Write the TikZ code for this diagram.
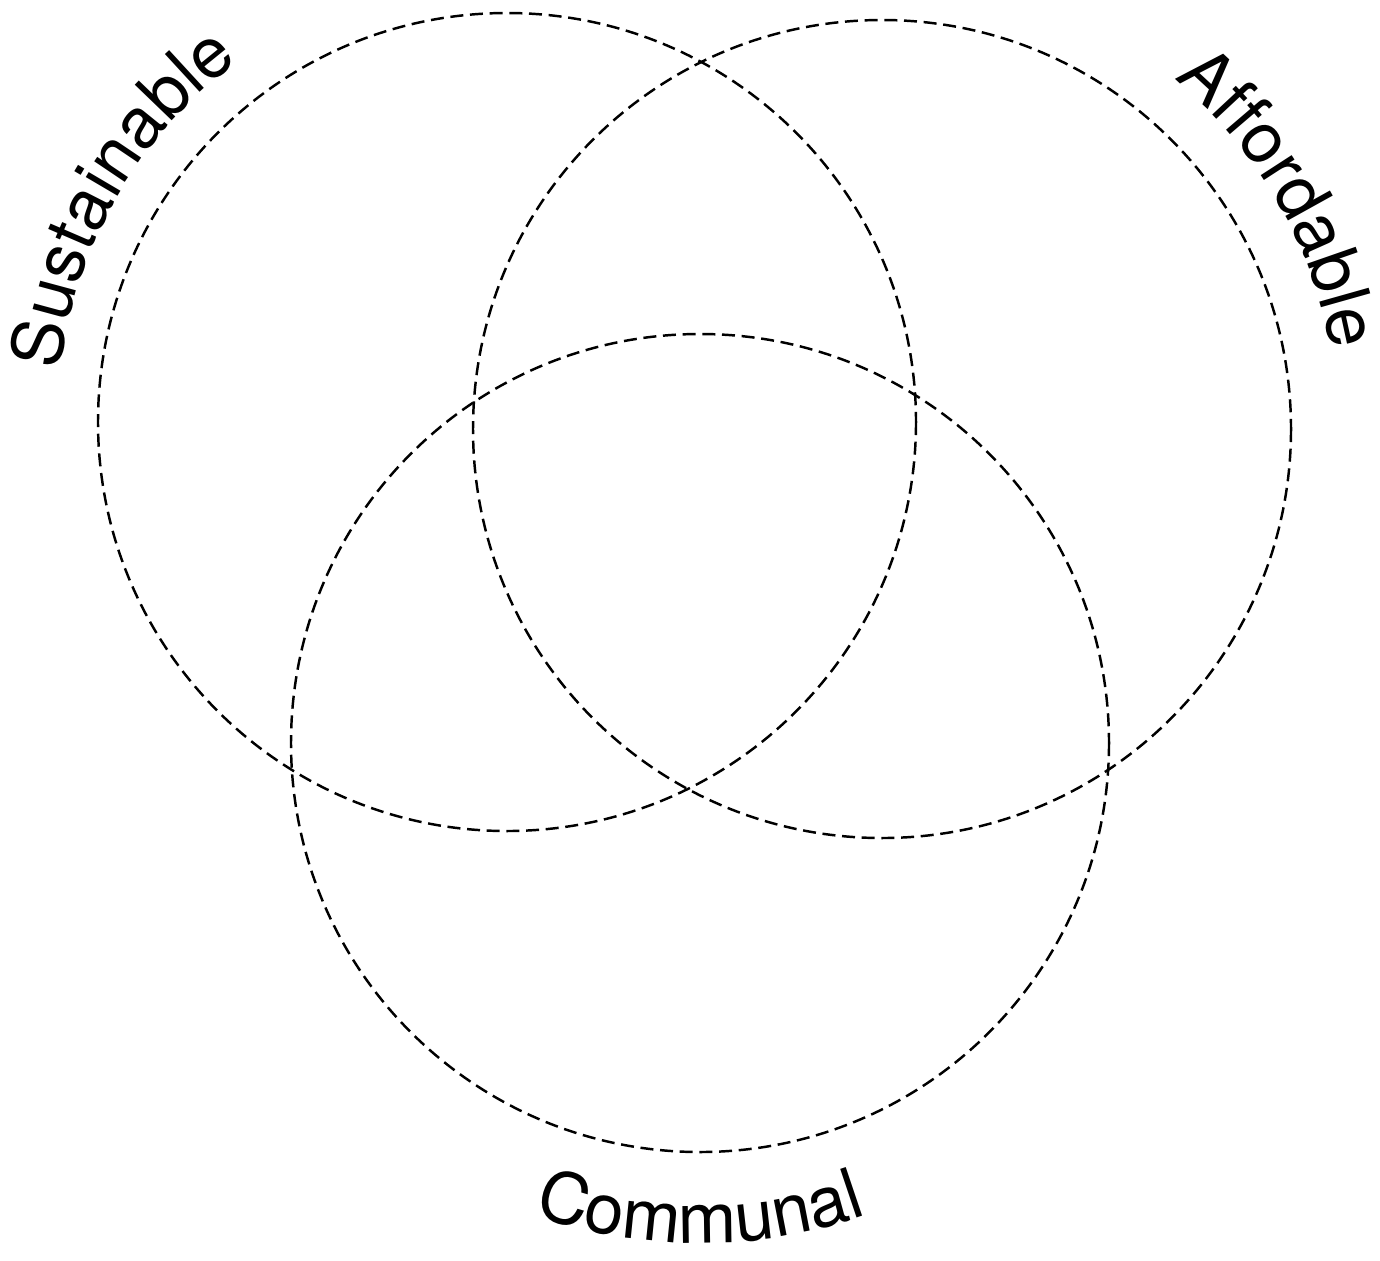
\documentclass[tikz,border=0pt]{standalone}
\usepackage{fontspec}
\newfontfamily\vennfont{TeX Gyre Heros}
\usetikzlibrary{calc,decorations.text}

\tikzset{
  ring/.style={dash pattern=on 3.7pt off 1.9pt, line width=0.7pt},
  arclabel/.style={decorate, decoration={text along path, text align=center,
    text={|\vennfont\fontsize{20}{24}\selectfont|#1}}}
}

\begin{document}
\begin{tikzpicture}[x=0.01cm,y=-0.01cm]
\useasboundingbox (0,0) rectangle (1380,1260);

\coordinate (sust) at (507,422);
\coordinate (aff) at (882,429);
\coordinate (comm) at (700,743);

\foreach \c in {sust,aff,comm}
  \draw[ring] (\c) circle[radius=409];

\path[arclabel=Sustainable] ($(sust)+(180:450)$) arc[start angle=180, end angle=240, radius=450];
\path[arclabel=Affordable] ($(aff)+(300:456)$) arc[start angle=300, end angle=360, radius=456];
\path[arclabel=Communal] ($(comm)+(120:500)$) arc[start angle=120, end angle=60, radius=500];
\end{tikzpicture}
\end{document}
